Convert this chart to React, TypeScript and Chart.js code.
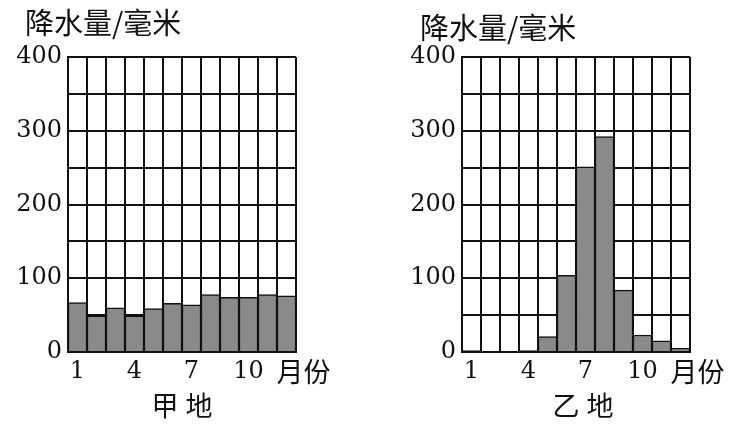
import React, { useEffect, useRef } from 'react';
import { Chart, registerables } from 'chart.js';

Chart.register(...registerables);

// ---- data ----
const months = ['1', '2', '3', '4', '5', '6', '7', '8', '9', '10', '11', '12'];
const jiaRainfall = [67, 49, 60, 49, 59, 66, 64, 78, 74, 74, 78, 76];
const yiRainfall = [2, 0, 0, 2, 21, 104, 251, 292, 84, 23, 15, 5];
const shownMonthTicks = ['1', '4', '7', '10'];
const yLabelValues = [0, 100, 200, 300, 400];
const yAxisTitle = '降水量/毫米';
const xAxisUnit = '月份';
const jiaName = '甲地';
const yiName = '乙地';

const NUM_FONT = { family: "'DejaVu Serif', 'Liberation Serif', serif", size: 24 };
const CJK = "'Noto Sans CJK SC', sans-serif";
const INK = '#111111';
const BAR_FILL = '#8a8a8a';

type PanelProps = {
  values: number[];
  name: string;
  left: number;
  width: number;
  yAxisWidth: number;
  rightPad: number;
  titleX: number;
  titleY: number;
  nameDx: number;
};

function Panel(p: PanelProps) {
  const ref = useRef<HTMLCanvasElement>(null);

  useEffect(() => {
    if (!ref.current) return;
    const textPlugin = {
      id: 'panelText',
      afterDraw(chart: any) {
        const { ctx, chartArea, scales } = chart;
        ctx.save();
        ctx.fillStyle = INK;
        ctx.textBaseline = 'middle';
        ctx.textAlign = 'left';
        ctx.font = `29px ${CJK}`;
        ctx.fillText(yAxisTitle, p.titleX, p.titleY);
        const xs = scales.x;
        ctx.font = `27px ${CJK}`;
        ctx.fillText(xAxisUnit, xs.getPixelForValue(11) - 10, 372);
        ctx.textAlign = 'center';
        const cx = (chartArea.left + chartArea.right) / 2 + p.nameDx;
        const chars = Array.from(p.name);
        ctx.fillText(chars[0], cx - 17, 406);
        ctx.fillText(chars[1], cx + 17, 406);
        ctx.restore();
      },
    };

    const chart = new Chart(ref.current, {
      type: 'bar',
      data: {
        labels: months,
        datasets: [
          {
            data: p.values,
            backgroundColor: BAR_FILL,
            borderColor: INK,
            borderWidth: 1.5,
            barPercentage: 1,
            categoryPercentage: 1,
          },
        ],
      },
      options: {
        animation: false,
        responsive: false,
        maintainAspectRatio: false,
        layout: { padding: { top: 57, right: p.rightPad, left: 0, bottom: 0 } },
        plugins: { legend: { display: false }, tooltip: { enabled: false }, title: { display: false } },
        scales: {
          x: {
            grid: { color: INK, lineWidth: 2, drawTicks: false, offset: true },
            border: { color: INK, width: 2 },
            ticks: {
              autoSkip: false,
              maxRotation: 0,
              padding: 5,
              color: INK,
              font: NUM_FONT,
              callback: (_v: any, i: number) => (shownMonthTicks.includes(months[i]) ? months[i] : ''),
            },
            afterFit: (s: any) => {
              s.height = 72;
            },
          },
          y: {
            min: 0,
            max: 400,
            grid: { color: INK, lineWidth: 2, drawTicks: false },
            border: { color: INK, width: 2 },
            ticks: {
              stepSize: 50,
              padding: 6,
              color: INK,
              font: NUM_FONT,
              callback: (v: any) => (yLabelValues.includes(Number(v)) ? String(v) : ''),
            },
            afterFit: (s: any) => {
              s.width = p.yAxisWidth;
            },
          },
        },
      },
      plugins: [textPlugin],
    } as any);
    return () => chart.destroy();
  }, []);

  return (
    <canvas
      ref={ref}
      width={p.width}
      height={424}
      style={{ position: 'absolute', left: p.left, top: 0, width: p.width, height: 424 }}
    />
  );
}

export default function App() {
  return (
    <div style={{ position: 'fixed', left: 0, top: 0, width: 737, height: 424, background: '#ffffff', overflow: 'hidden' }}>
      <Panel values={jiaRainfall} name={jiaName} left={0} width={368} yAxisWidth={68} rightPad={72} titleX={25} titleY={23} nameDx={0} />
      <Panel values={yiRainfall} name={yiName} left={368} width={369} yAxisWidth={94} rightPad={47} titleX={52} titleY={28} nameDx={7} />
    </div>
  );
}
